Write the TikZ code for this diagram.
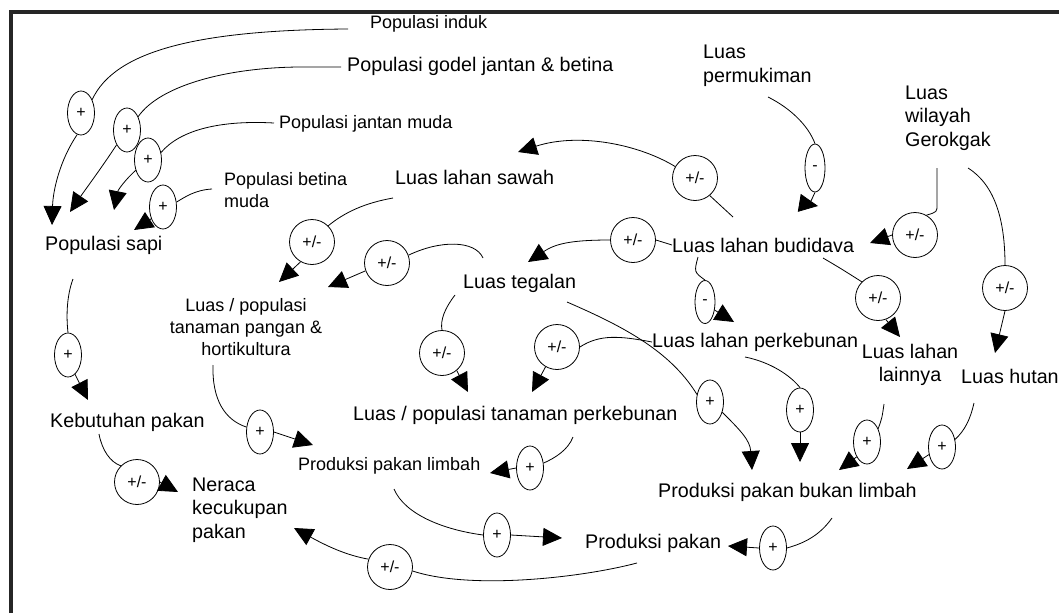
\documentclass[tikz,border=0pt]{standalone}
\usepackage{fontspec}
\setmainfont{Liberation Sans}
\usetikzlibrary{arrows.meta,shapes.geometric}
\begin{document}
\begin{tikzpicture}[x=1pt,y=-1pt,
  big/.style={inner sep=0pt,anchor=west,font=\fontsize{19.7}{23.5}\selectfont},
  sml/.style={inner sep=0pt,anchor=west,font=\fontsize{18}{22}\selectfont},
  sgn/.style={draw,ellipse,line width=0.8pt,minimum width=27pt,minimum height=44pt,inner sep=0pt,font=\fontsize{16}{16}\selectfont},
  sgnm/.style={sgn,minimum width=20pt,minimum height=48pt},
  pm/.style={draw,circle,line width=0.8pt,minimum size=45pt,inner sep=0pt,font=\fontsize{16}{16}\selectfont},
  con/.style={line width=0.8pt},
  arr/.style={con,-{Triangle[length=19pt,width=18pt]}},
  frame/.style={line width=3.5pt,draw=black!85}]
\useasboundingbox (0,0) rectangle (1059,613);
\fill[white] (0,0) rectangle (1059,613);
\coordinate (fl) at (11,613);
\coordinate (fc) at (11,12);
\coordinate (fr) at (1059,12);
\draw[frame] (fl) -- (fc) -- (fr);

% text nodes
\node[sml] (induk) at (370,24) {Populasi induk};
\node[big] (godel) at (347,66) {Populasi godel jantan \& betina};
\node[sml] (jantan) at (279,124) {Populasi jantan muda};
\node[sml,align=left] (betina) at (224,190) {Populasi betina\\muda};
\node[big] (sapi) at (45,245) {Populasi sapi};
\node[big] (sawah) at (395,177) {Luas lahan sawah};
\node[big,align=left] (permukiman) at (703,66) {Luas\\permukiman};
\node[big,align=left] (wilayah) at (905,118) {Luas\\wilayah\\Gerokgak};
\node[big] (budidava) at (672,245) {Luas lahan budidava};
\node[big] (tegalan) at (463,283) {Luas tegalan};
\node[sml,align=center,anchor=center] (pangan) at (246,327) {Luas / populasi\\tanaman pangan \&\\hortikultura};
\node[big] (lahanperk) at (652,342) {Luas lahan perkebunan};
\node[big,align=center,anchor=center] (lainnya) at (910,365) {Luas lahan\\lainnya};
\node[big] (hutan) at (961,376) {Luas hutan};
\node[big] (tanperk) at (353,415) {Luas / populasi tanaman perkebunan};
\node[big] (kebutuhan) at (50,422) {Kebutuhan pakan};
\node[sml] (limbah) at (298,466) {Produksi pakan limbah};
\node[big,align=left] (neraca) at (192,510) {Neraca\\kecukupan\\pakan};
\node[big] (bukan) at (658,492) {Produksi pakan bukan limbah};
\node[big] (pakan) at (585,543) {Produksi pakan};

% polarity signs
\node[sgn] (s1) at (81,113) {+};
\node[sgn] (s2) at (127,130) {+};
\node[sgn] (s3) at (148,160) {+};
\node[sgn] (s4) at (163,207) {+};
\node[pm] (s5) at (695,178) {+/-};
\node[pm] (s6) at (633,240) {+/-};
\node[sgnm] (s7) at (815,168) {-};
\node[pm] (s8) at (915,235) {+/-};
\node[pm] (s9) at (1005,288) {+/-};
\node[pm] (s10) at (878,298) {+/-};
\node[sgn,minimum width=20pt,minimum height=43pt] (s11) at (705,302) {-};
\node[pm] (s12) at (442,353) {+/-};
\node[pm] (s13) at (557,347) {+/-};
\node[sgn] (s14) at (710,402) {+};
\node[sgn] (s15) at (800,410) {+};
\node[sgn] (s16) at (867,442) {+};
\node[sgn] (s17) at (942,447) {+};
\node[sgn] (s18) at (773,548) {+};
\node[pm] (s19) at (390,567) {+/-};
\node[sgn] (s20) at (530,468) {+};
\node[sgn] (s21) at (497,535) {+};
\node[sgn] (s22) at (260,432) {+};
\node[sgn] (s23) at (68,355) {+};
\node[pm] (s24) at (137,482) {+/-};
\node[pm] (s25) at (312,242) {+/-};
\node[pm] (s26) at (387,263) {+/-};

% connector ends
\coordinate (e1) at (348,29);
\coordinate (t1) at (52,225);
\coordinate (e2) at (341,67);
\coordinate (t2) at (70,212);
\coordinate (e3) at (274,123);
\coordinate (t3) at (114,210);
\coordinate (e4) at (212,189);
\coordinate (t4) at (134,230);
\coordinate (e5) at (733,217);
\coordinate (t5) at (518,152);
\coordinate (t6) at (528,262);
\coordinate (e7) at (768,97);
\coordinate (t7) at (818,206);
\coordinate (e8) at (937,168);
\coordinate (t8) at (870,243);
\coordinate (e9) at (968,168);
\coordinate (t9) at (995,353);
\coordinate (e10) at (823,258);
\coordinate (t10) at (900,337);
\coordinate (e11) at (698,257);
\coordinate (t11) at (734,322);
\coordinate (e12) at (455,295);
\coordinate (t12) at (468,392);
\coordinate (t13) at (532,392);
\coordinate (e14) at (567,302);
\coordinate (t14) at (752,470);
\coordinate (e15) at (745,357);
\coordinate (t15) at (800,462);
\coordinate (e16) at (884,404);
\coordinate (t16) at (839,470);
\coordinate (e17) at (974,403);
\coordinate (t17) at (907,469);
\coordinate (e18) at (832,518);
\coordinate (t18) at (728,546);
\coordinate (e19) at (637,563);
\coordinate (t19) at (294,528);
\coordinate (e20) at (573,437);
\coordinate (t20) at (490,473);
\coordinate (e21) at (394,489);
\coordinate (t21) at (562,538);
\coordinate (e22) at (213,365);
\coordinate (t22) at (313,445);
\coordinate (e23) at (73,279);
\coordinate (t23) at (88,400);
\coordinate (e24) at (99,434);
\coordinate (t24) at (178,492);
\coordinate (e25) at (393,198);
\coordinate (t25) at (279,282);
\coordinate (e26) at (483,258);
\coordinate (t26) at (328,287);

% connectors
\draw[con] (e1) .. controls (200,30) and (115,50) .. (s1.50);
\draw[arr] (s1.260) .. controls (60,160) and (53,190) .. (t1);
\draw[con] (e2) -- (310,67) .. controls (230,66) and (160,85) .. (s2.50);
\draw[arr] (s2.235) .. controls (100,170) and (85,190) .. (t2);
\draw[con] (e3) .. controls (220,120) and (180,130) .. (s3.30);
\draw[arr] (s3.220) .. controls (125,180) and (118,190) .. (t3);
\draw[con] (e4) .. controls (195,190) and (185,197) .. (s4.20);
\draw[arr] (s4.225) -- (t4);
\draw[con] (e5) -- (s5.-50);
\draw[arr] (s5.150) .. controls (640,145) and (580,132) .. (t5);
\draw[con] (budidava.west) -- (s6.east);
\draw[arr] (s6.west) .. controls (570,240) and (555,244) .. (t6);
\draw[con] (e7) .. controls (790,108) and (808,125) .. (s7.north);
\draw[arr] (s7.south) .. controls (810,202) and (812,205) .. (t7);
\draw[con] (e8) -- (937,205) .. controls (937,212) .. (s8.60);
\draw[arr] (s8.west) -- (t8);
\draw[con] (e9) .. controls (995,185) and (1005,220) .. (s9.north);
\draw[arr] (s9.south) -- (t9);
\draw[con] (e10) .. controls (840,268) .. (s10.135);
\draw[arr] (s10.-70) -- (t10);
\draw[con] (e11) .. controls (694,272) .. (s11.north);
\draw[arr] (s11.-40) -- (t11);
\draw[con] (e12) .. controls (445,308) and (440,320) .. (s12.north);
\draw[arr] (s12.-50) -- (t12);
\draw[con] (lahanperk.west) .. controls (620,336) and (600,334) .. (s13.east);
\draw[arr] (s13.240) -- (t13);
\draw[con] (e14) .. controls (620,325) and (670,350) .. (s14.150);
\draw[arr] (s14.-40) .. controls (740,430) and (750,440) .. (t14);
\draw[con] (e15) .. controls (770,362) and (790,375) .. (s15.north);
\draw[arr] (s15.south) -- (t15);
\draw[con] (e16) .. controls (882,418) .. (s16.50);
\draw[arr] (s16.235) -- (t16);
\draw[con] (e17) .. controls (970,420) and (965,430) .. (s17.30);
\draw[arr] (s17.210) -- (t17);
\draw[con] (e18) .. controls (820,535) and (805,543) .. (s18.east);
\draw[arr] (s18.west) -- (t18);
\draw[con] (e19) .. controls (580,578) and (470,590) .. (s19.-10);
\draw[arr] (s19.160) .. controls (345,555) and (325,545) .. (t19);
\draw[con] (e20) .. controls (568,450) and (555,458) .. (s20.20);
\draw[arr] (s20.west) -- (t20);
\draw[con] (e21) .. controls (405,515) and (445,530) .. (s21.west);
\draw[arr] (s21.east) -- (t21);
\draw[con] (e22) .. controls (212,400) and (225,420) .. (s22.160);
\draw[arr] (s22.east) -- (t22);
\draw[con] (e23) .. controls (67,295) and (66,315) .. (s23.north);
\draw[arr] (s23.-70) -- (t23);
\draw[con] (e24) .. controls (102,450) and (110,462) .. (s24.135);
\draw[arr] (s24.east) -- (t24);
\draw[con] (e25) .. controls (365,203) and (345,212) .. (s25.45);
\draw[arr] (s25.240) -- (t25);
\draw[con] (e26) .. controls (475,240) and (440,240) .. (s26.20);
\draw[arr] (s26.200) -- (t26);
\end{tikzpicture}
\end{document}
